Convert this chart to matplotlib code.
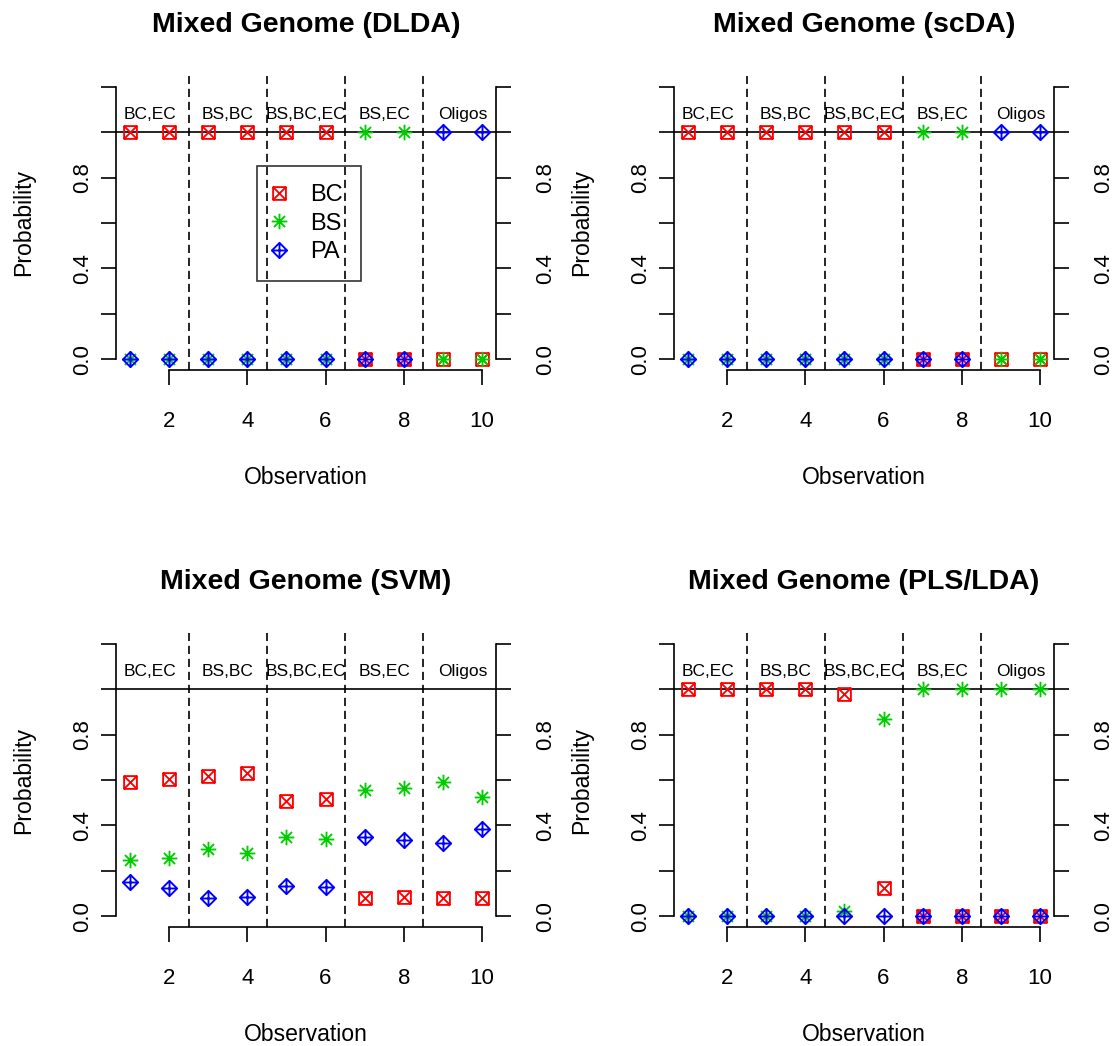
import matplotlib
matplotlib.use("Agg")
import matplotlib.pyplot as plt
from matplotlib.path import Path

plt.rcParams['font.family'] = ['Liberation Sans', 'DejaVu Sans']

# ---------------- data ----------------
obs = [1, 2, 3, 4, 5, 6, 7, 8, 9, 10]
titles = ["Mixed Genome (DLDA)", "Mixed Genome (scDA)",
          "Mixed Genome (SVM)", "Mixed Genome (PLS/LDA)"]

dlda_bc = [1, 1, 1, 1, 1, 1, 0, 0, 0, 0]
dlda_bs = [0, 0, 0, 0, 0, 0, 1, 1, 0, 0]
dlda_pa = [0, 0, 0, 0, 0, 0, 0, 0, 1, 1]

scda_bc = [1, 1, 1, 1, 1, 1, 0, 0, 0, 0]
scda_bs = [0, 0, 0, 0, 0, 0, 1, 1, 0, 0]
scda_pa = [0, 0, 0, 0, 0, 0, 0, 0, 1, 1]

svm_bc = [0.593, 0.605, 0.619, 0.630, 0.509, 0.516, 0.078, 0.085, 0.078, 0.078]
svm_bs = [0.248, 0.254, 0.294, 0.279, 0.350, 0.342, 0.557, 0.565, 0.590, 0.527]
svm_pa = [0.149, 0.125, 0.078, 0.085, 0.133, 0.128, 0.350, 0.335, 0.324, 0.383]

pls_bc = [1, 1, 1, 1, 0.981, 0.125, 0, 0, 0, 0]
pls_bs = [0, 0, 0, 0, 0.022, 0.870, 1, 1, 1, 1]
pls_pa = [0, 0, 0, 0, 0, 0, 0, 0, 0, 0]

group_labels = ["BC,EC", "BS,BC", "BS,BC,EC", "BS,EC", "Oligos"]
group_centers = [1.5, 3.5, 5.5, 7.5, 9.5]
group_breaks = [2.5, 4.5, 6.5, 8.5]

series_names = ["BC", "BS", "PA"]
series_colors = ["#FF0000", "#00CD00", "#0000FF"]

y_ticks = [0, 0.2, 0.4, 0.6, 0.8, 1.0, 1.2]
y_ticklabels = ["0.0", "", "0.4", "", "0.8", "", ""]
x_ticks = [2, 4, 6, 8, 10]
x_ticklabels = ["2", "4", "6", "8", "10"]

panels = [
    (titles[0], dlda_bc, dlda_bs, dlda_pa),
    (titles[1], scda_bc, scda_bs, scda_pa),
    (titles[2], svm_bc, svm_bs, svm_pa),
    (titles[3], pls_bc, pls_bs, pls_pa),
]

# ---------------- R-like markers ----------------
M, L, C = Path.MOVETO, Path.LINETO, Path.CLOSEPOLY
pch7 = Path([(-1, -1), (1, -1), (1, 1), (-1, 1), (-1, -1),
             (-1, -1), (1, 1), (-1, 1), (1, -1)],
            [M, L, L, L, C, M, L, M, L])
a = 0.7071
pch8 = Path([(-1, 0), (1, 0), (0, -1), (0, 1), (-a, -a), (a, a), (-a, a), (a, -a)],
            [M, L, M, L, M, L, M, L])
pch9 = Path([(0, -1), (1, 0), (0, 1), (-1, 0), (0, -1),
             (0, -1), (0, 1), (-1, 0), (1, 0)],
            [M, L, L, L, C, M, L, M, L])
markers = [pch7, pch8, pch9]
msizes = [9.2, 11.2, 11.0]

# ---------------- layout ----------------
W, H, DPI = 1118, 1046, 100
PX = 72.0 / DPI  # points per pixel
fig = plt.figure(figsize=(W / DPI, H / DPI), dpi=DPI, facecolor='white')

lefts_px = [116, 674]
tops_px = [76, 633]
aw, ah = 380, 294
LW = 1.2
tick_len = 15 * PX
TICK_FS = 16

for i, (title, bc, bs, pa) in enumerate(panels):
    r, c = divmod(i, 2)
    l = lefts_px[c]
    t = tops_px[r]
    ax = fig.add_axes([l / W, 1 - (t + ah) / H, aw / W, ah / H])
    ax.set_xlim(0.64, 10.36)
    ax.set_ylim(-0.048, 1.248)
    ax.patch.set_visible(False)

    for s in ['top', 'right']:
        ax.spines[s].set_visible(False)
    ax.spines['left'].set_bounds(0, 1.2)
    ax.spines['bottom'].set_bounds(2, 10)
    for s in ['left', 'bottom']:
        ax.spines[s].set_linewidth(LW)

    ax.set_xticks(x_ticks, x_ticklabels)
    ax.set_yticks(y_ticks, y_ticklabels)
    ax.tick_params(axis='x', direction='out', length=tick_len, width=LW,
                   labelsize=TICK_FS, pad=26 * PX)
    ax.tick_params(axis='y', direction='out', length=tick_len, width=LW,
                   labelsize=TICK_FS, pad=8 * PX, labelrotation=90)
    for lbl in ax.get_yticklabels():
        lbl.set_va('center')

    ax2 = ax.twinx()
    ax2.set_ylim(-0.048, 1.248)
    for s in ['top', 'left', 'bottom']:
        ax2.spines[s].set_visible(False)
    ax2.spines['right'].set_bounds(0, 1.2)
    ax2.spines['right'].set_linewidth(LW)
    ax2.set_yticks(y_ticks, y_ticklabels)
    ax2.tick_params(axis='y', direction='out', length=tick_len, width=LW,
                    labelsize=TICK_FS, pad=24 * PX, labelrotation=90)
    for lbl in ax2.get_yticklabels():
        lbl.set_va('center')

    # reference lines
    ax.axhline(1.0, color='black', lw=LW, zorder=1)
    for xb in group_breaks:
        ax.axvline(xb, color='black', lw=LW, linestyle=(0, (4.9, 2.9)), zorder=1)

    # group labels
    for xc, gl in zip(group_centers, group_labels):
        ax.text(xc, 1.058, gl, ha='center', va='baseline', fontsize=12.5)

    # points
    handles = []
    for vals, name, col, mk, ms in zip([bc, bs, pa], series_names, series_colors,
                                       markers, msizes):
        h, = ax.plot(obs, vals, linestyle='none', marker=mk, markersize=ms,
                     markerfacecolor='none', markeredgecolor=col,
                     markeredgewidth=1.35, label=name, zorder=3, clip_on=False)
        handles.append(h)

    # titles & axis labels
    ax.annotate(title, xy=(0.5, 1), xycoords='axes fraction',
                xytext=(0, 44 * PX), textcoords='offset points',
                ha='center', va='baseline', fontsize=20.5, fontweight='bold')
    ax.annotate("Observation", xy=(0.5, 0), xycoords='axes fraction',
                xytext=(0, -114 * PX), textcoords='offset points',
                ha='center', va='baseline', fontsize=16.6)
    ax.annotate("Probability", xy=(0, 0.5), xycoords='axes fraction',
                xytext=(-86 * PX, 0), textcoords='offset points',
                ha='center', va='baseline', rotation=90, rotation_mode='anchor',
                fontsize=16.6)

    if i == 0:
        leg = ax.legend(handles=handles, loc='upper left',
                        bbox_to_anchor=((257 - l) / aw, (t + ah - 166) / ah),
                        borderaxespad=0, fontsize=17, borderpad=0.76,
                        labelspacing=0.28, handlelength=0.35, handletextpad=1.15,
                        fancybox=False, shadow=False, numpoints=1,
                        frameon=True)
        fr = leg.get_frame()
        fr.set_edgecolor('black')
        fr.set_facecolor('none')
        fr.set_linewidth(LW)

fig.savefig("out.png", dpi=DPI, facecolor='white')
